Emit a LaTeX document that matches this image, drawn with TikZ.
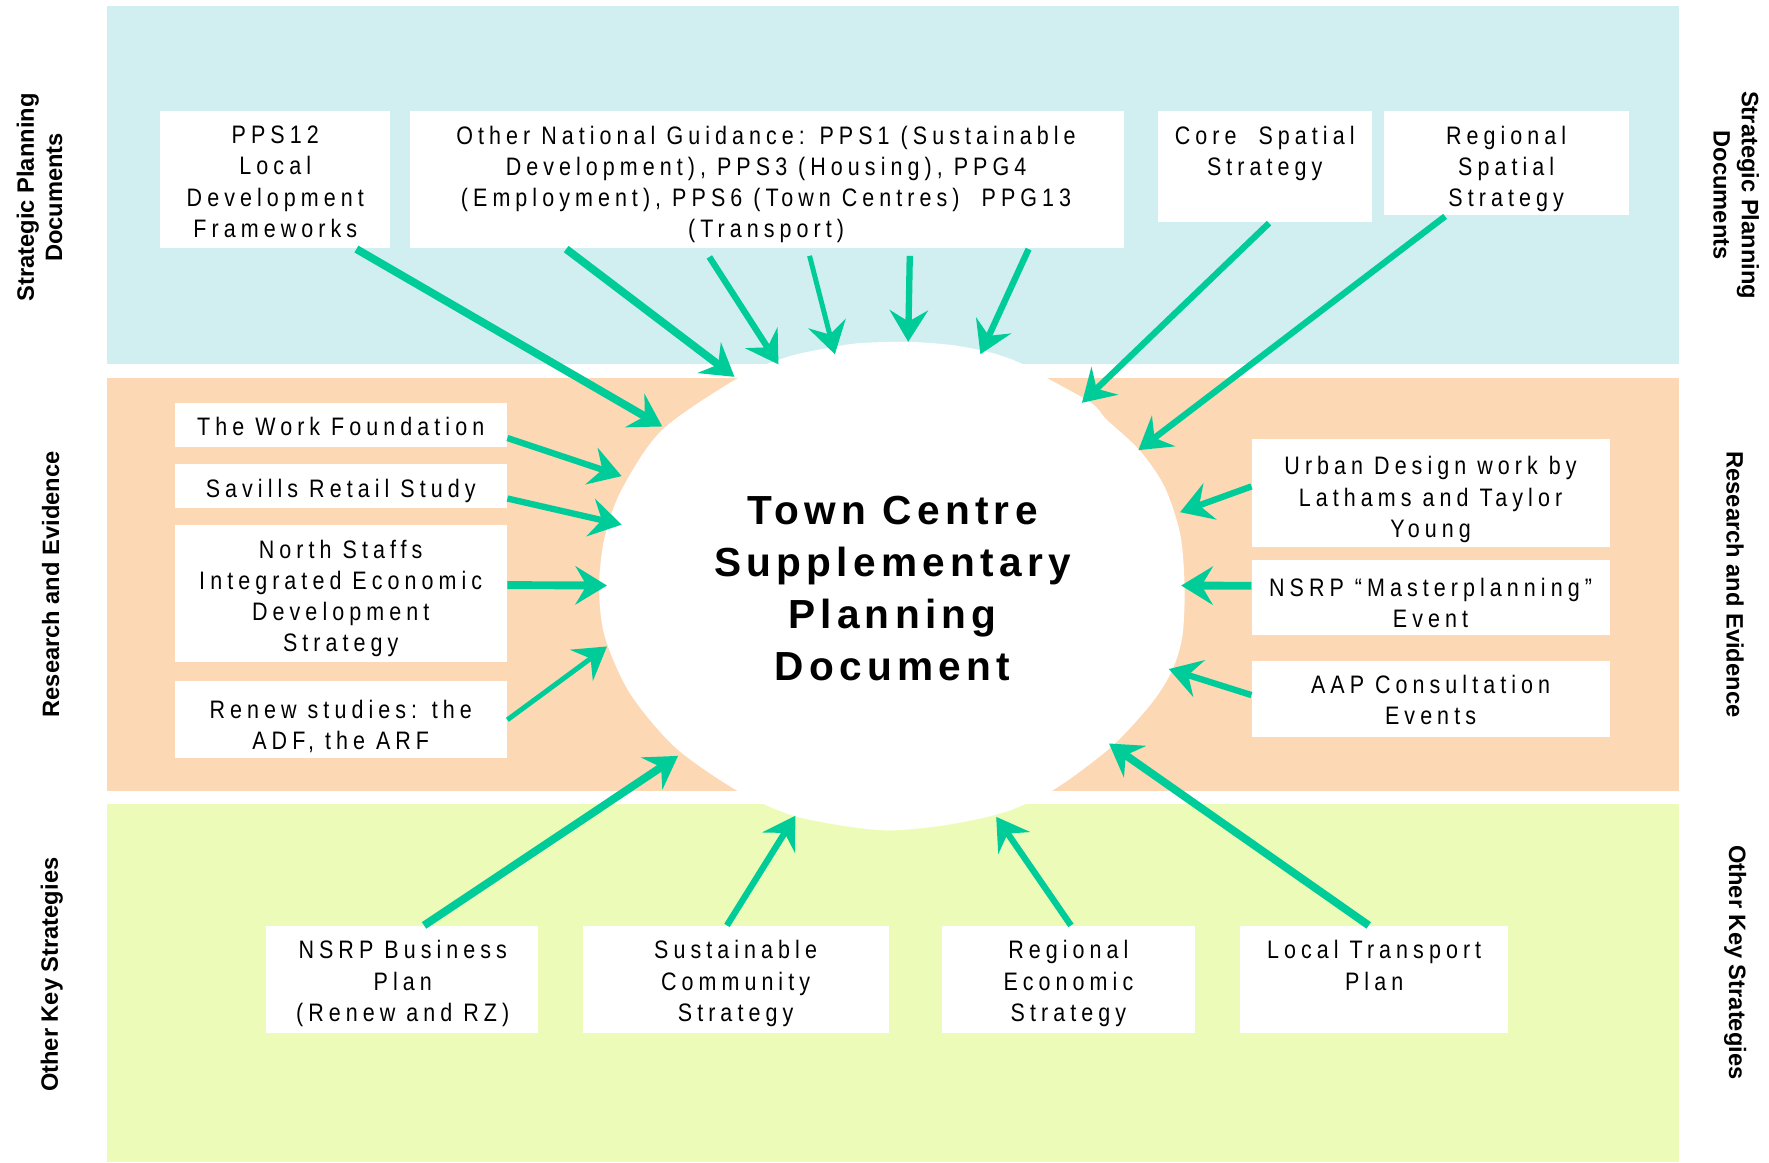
\documentclass[tikz,border=0pt]{standalone}
\usepackage{fontspec}
\setmainfont{Liberation Sans}
\newfontfamily\boxfont[FakeStretch=0.85,LetterSpace=20]{Liberation Sans}
\newfontfamily\titlefont[LetterSpace=13]{Liberation Sans}
\usetikzlibrary{arrows.meta,calc,fit}
\definecolor{bandblue}{RGB}{209,239,241}
\definecolor{bandpeach}{RGB}{252,216,180}
\definecolor{bandlime}{RGB}{236,252,184}
\definecolor{feed}{RGB}{0,204,153}
\tikzset{every picture/.style={line width=0.75pt}}
\tikzset{
  box/.style={fill=white, inner sep=0pt},
  boxtxt/.style={anchor=north, inner sep=0pt, align=center, font=\boxfont\fontsize{11.2}{13.8}\selectfont},
  side/.style={inner sep=0pt, align=center, font=\bfseries\fontsize{10.5}{12.5}\selectfont},
  feeds/.style={draw=feed, line width=2.8pt, -{Stealth[length=14pt,width=17pt,inset=5pt]}},
  feedheavy/.style={feeds, line width=3.5pt},
  feedlight/.style={feeds, line width=2.2pt},
}

\begin{document}
\begin{tikzpicture}[x=0.5pt,y=0.5pt,yscale=-1,xscale=1]
\useasboundingbox (0,0) rectangle (1568,1030);

%Shape: Bands
\fill[bandblue] (95,5) rectangle (1488,323);
\fill[bandpeach] (95,335) rectangle (1488,701);
\fill[bandlime] (95,713) rectangle (1488,1030);

%Shape: Blob
\fill[white] plot[smooth cycle] coordinates {(699,316) (742,307) (764,304) (805,303) (845,306) (880,313) (905,322) (926,334) (967,357) (981,372) (1010,399) (1032,431) (1046,473) (1050,520) (1048,564) (1039,594) (1021,623) (985,662) (934,700) (890,720) (840,731) (790,736) (748,732) (700,722) (652,700) (598,662) (558,614) (536,564) (531,520) (536,476) (551,434) (587,381) (656,334)};

% Text Node
\node [anchor=north, align=center, inner sep=0pt, font=\titlefont\bfseries\fontsize{18}{23}\selectfont] (tcspd) at (791,439) {Town Centre\\Supplementary\\Planning\\Document};

% Side labels
\node [side, rotate=90] (lspd) at (35,175) {Strategic Planning\\Documents};
\node [side, rotate=90] (lre) at (45,518) {Research and Evidence};
\node [side, rotate=90] (loks) at (46,864) {Other Key Strategies};
\node [side, rotate=-90] (rspd) at (1539,173) {Strategic Planning\\Documents};
\node [side, rotate=-90] (rre) at (1538,518) {Research and Evidence};
\node [side, rotate=-90] (roks) at (1538,853) {Other Key Strategies};

%Shape: Rectangles, top row
\node [box, fit={(142,98) (346,220)}] (pps) {};
\node [box, fit={(363,98) (996,220)}] (oth) {};
\node [box, fit={(1026,98) (1216,197)}] (core) {};
\node [box, fit={(1227,98) (1444,191)}] (reg) {};
% Text Node
\node [boxtxt] (ppst) at (244,111) {PPS12\\Local\\Development\\Frameworks};
\node [boxtxt] (otht) at (679,111) {Other National Guidance: PPS1 (Sustainable\\Development), PPS3 (Housing), PPG4\\(Employment), PPS6 (Town Centres)\ \ PPG13\\(Transport)};
\node [boxtxt] (coret) at (1121,111) {Core\ \ Spatial\\Strategy};
\node [boxtxt] (regt) at (1335,111) {Regional\\Spatial\\Strategy};

%Shape: Rectangles, left
\node [box, fit={(155,357) (449,396)}] (work) {};
\node [box, fit={(155,411) (449,450)}] (sav) {};
\node [box, fit={(155,465) (449,587)}] (nst) {};
\node [box, fit={(155,604) (449,672)}] (ren) {};
% Text Node
\node [boxtxt] (workt) at (302,369) {The Work Foundation};
\node [boxtxt] (savt) at (302,424) {Savills Retail Study};
\node [boxtxt] (nstt) at (302,478) {North Staffs\\Integrated Economic\\Development\\Strategy};
\node [boxtxt] (rent) at (302,620) {Renew studies: the\\ADF, the ARF};

%Shape: Rectangles, right
\node [box, fit={(1110,389) (1427,485)}] (urb) {};
\node [box, fit={(1110,496) (1427,563)}] (nsm) {};
\node [box, fit={(1110,586) (1427,653)}] (aap) {};
% Text Node
\node [boxtxt] (urbt) at (1268,404) {Urban Design work by\\Lathams and Taylor\\Young};
\node [boxtxt] (nsmt) at (1268,512) {NSRP “Masterplanning”\\Event};
\node [boxtxt] (aapt) at (1268,598) {AAP Consultation\\Events};

%Shape: Rectangles, bottom row
\node [box, fit={(236,821) (477,916)}] (nsb) {};
\node [box, fit={(517,821) (788,916)}] (sus) {};
\node [box, fit={(835,821) (1059,916)}] (reco) {};
\node [box, fit={(1099,821) (1337,916)}] (ltp) {};
% Text Node
\node [boxtxt] (nsbt) at (357,833) {NSRP Business\\Plan\\(Renew and RZ)};
\node [boxtxt] (sust) at (652,833) {Sustainable\\Community\\Strategy};
\node [boxtxt] (recot) at (947,833) {Regional\\Economic\\Strategy};
\node [boxtxt] (ltpt) at (1218,833) {Local Transport\\Plan};

% arrow tips on the blob edge
\coordinate (in1) at (587,378);
\coordinate (in2) at (651,334);
\coordinate (in3) at (690,323);
\coordinate (in4) at (740,314);
\coordinate (in5) at (805,303);
\coordinate (in6) at (869,314);
\coordinate (in7) at (959,357);
\coordinate (in8) at (1009,399);
\coordinate (in9) at (551,422);
\coordinate (in10) at (551,465);
\coordinate (in11) at (538,519);
\coordinate (in12) at (538,573);
\coordinate (in13) at (1046,454);
\coordinate (in14) at (1047,519);
\coordinate (in15) at (1036,593);
\coordinate (in16) at (601,670);
\coordinate (in17) at (705,723);
\coordinate (in18) at (883,724);
\coordinate (in19) at (983,659);

%Straight Lines: top
\draw [feedheavy] ($(pps.south west)!0.85!(pps.south east)$) -- (in1);
\draw [feedheavy] ($(oth.south west)!0.22!(oth.south east)$) -- (in2);
\draw [feeds] ($(oth.south west)!0.42!(oth.south east)+(0,7)$) -- (in3);
\draw [feedlight] ($(oth.south west)!0.56!(oth.south east)+(0,6)$) -- (in4);
\draw [feeds] ($(oth.south west)!0.70!(oth.south east)+(0,6)$) -- (in5);
\draw [feeds] ($(oth.south west)!0.866!(oth.south east)$) -- (in6);
\draw [feeds] ($(core.south west)!0.52!(core.south east)$) -- (in7);
\draw [feeds] ($(reg.south west)!0.25!(reg.south east)$) -- (in8);
%Straight Lines: left
\draw [feeds] ($(work.north east)!0.79!(work.south east)$) -- (in9);
\draw [feeds] ($(sav.north east)!0.78!(sav.south east)$) -- (in10);
\draw [feedheavy] ($(nst.north east)!0.44!(nst.south east)$) -- (in11);
\draw [feedlight] (ren.east) -- (in12);
%Straight Lines: right
\draw [feeds] ($(urb.north west)!0.44!(urb.south west)$) -- (in13);
\draw [feedheavy] ($(nsm.north west)!0.35!(nsm.south west)$) -- (in14);
\draw [feeds] ($(aap.north west)!0.45!(aap.south west)$) -- (in15);
%Straight Lines: bottom
\draw [feedheavy] ($(nsb.north west)!0.58!(nsb.north east)$) -- (in16);
\draw [feeds] ($(sus.north west)!0.47!(sus.north east)$) -- (in17);
\draw [feeds] ($(reco.north west)!0.51!(reco.north east)$) -- (in18);
\draw [feedheavy] ($(ltp.north west)!0.48!(ltp.north east)$) -- (in19);

\end{tikzpicture}
\end{document}
